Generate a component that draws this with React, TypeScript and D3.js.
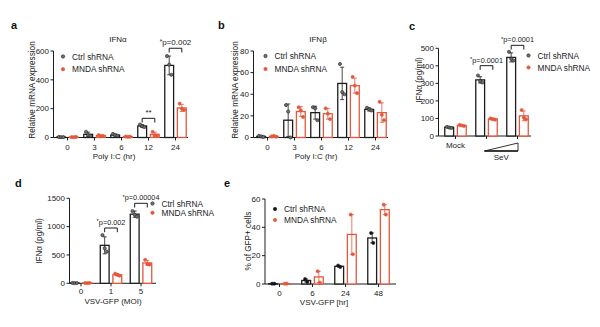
import React from 'react';
import * as d3 from 'd3';

const RED = '#e4573d';
const BLK = '#1c1c1c';
const FONT = 'Liberation Sans, Arial, Helvetica, sans-serif';
const legendLabels = ['Ctrl shRNA', 'MNDA shRNA'];

// ---------- panel a ----------
const aCats = ['0', '3', '6', '12', '24'];
const aCtrl = [3, 22, 17, 80, 500];
const aCtrlSd = [1.5, 15, 7, 9, 65];
const aCtrlPts = [[4, 2, 3], [40, 15, 12], [25, 15, 12], [90, 78, 72], [565, 505, 435]];
const aMnda = [3, 13, 6, 22, 205];
const aMndaSd = [1, 4, 2, 15, 25];
const aMndaPts = [[3, 2, 4], [17, 10, 12], [7, 5, 6], [40, 15, 12], [235, 200, 190]];
const aYTicks = [0, 200, 400, 600];
const aSig = [
  { cat: '12', text: '**', level: 133 },
  { cat: '24', text: '*p=0.002', level: 619 },
];

// ---------- panel b ----------
const bCats = ['0', '3', '6', '12', '24'];
const bCtrl = [1, 16, 23, 50, 26];
const bCtrlSd = [0.5, 15, 6, 15, 1.5];
const bCtrlPts = [[1.5, 1, 0.5], [30, 24, 0], [28, 27, 16], [68, 42, 40], [27.5, 26, 25]];
const bMnda = [1, 24, 22, 48, 23];
const bMndaSd = [0.5, 4.5, 5, 7, 9];
const bMndaPts = [[1, 1.5, 0.8], [28, 25, 19], [27, 22, 17], [56, 48, 41], [33, 21, 16]];
const bYTicks = [0, 20, 40, 60, 80];

// ---------- panel c ----------
const cCats = ['Mock', 'SeV low', 'SeV high'];
const cCatLabels = ['Mock', '', ''];
const cCtrl = [50, 320, 448];
const cCtrlSd = [3, 18, 26];
const cCtrlPts = [[52, 48, 46], [345, 312, 305], [480, 440, 430]];
const cMnda = [60, 97, 115];
const cMndaSd = [3, 4, 28];
const cMndaPts = [[63, 60, 57], [100, 96, 93], [148, 105, 95]];
const cYTicks = [0, 100, 200, 300, 400, 500];
const cSig = [
  { cat: 'SeV low', text: '*p=0.0001', level: 401 },
  { cat: 'SeV high', text: '*p=0.0001', level: 517 },
];

// ---------- panel d ----------
const dCats = ['0', '1', '5'];
const dCtrl = [5, 670, 1220];
const dCtrlSd = [3, 150, 55];
const dCtrlPts = [[6, 4, 5], [850, 620, 560], [1275, 1210, 1175]];
const dMnda = [5, 150, 360];
const dMndaSd = [2, 18, 45];
const dMndaPts = [[5, 4, 6], [170, 150, 135], [415, 340, 330]];
const dYTicks = [0, 500, 1000, 1500];
const dSig = [
  { cat: '1', text: '*p=0.002', level: 976 },
  { cat: '5', text: '*p=0.00004', level: 1412 },
];

// ---------- panel e ----------
const eCats = ['0', '6', '24', '48'];
const eCtrl = [0.2, 2.5, 12.5, 32.5];
const eCtrlSd = [0.2, 1, 0.5, 3.5];
const eCtrlPts = [[0.2, 0.2], [3.5, 1.5], [13, 12], [36, 29]];
const eMnda = [0.2, 5, 35, 52.5];
const eMndaSd = [0.2, 4, 14, 3.5];
const eMndaPts = [[0.2, 0.2], [9, 1], [49, 21], [56, 49]];
const eYTicks = [0, 20, 40, 60];

type Sig = { cat: string; text: string; level: number };
type Cfg = {
  letter: string; letterPos: [number, number];
  title?: string; titlePos?: [number, number];
  axisX: number; bottom: number; top: number; yMax: number;
  band: [number, number]; axisEnd: number;
  cats: string[]; catLabels: string[]; labelGap: number;
  ctrl: number[]; ctrlSd: number[]; ctrlPts: number[][];
  mnda: number[]; mndaSd: number[]; mndaPts: number[][];
  yTicks: number[];
  yTitle: string; yTitlePos: [number, number];
  xTitle: string; xTitlePos: [number, number];
  legend: [number, number, number];
  sig: Sig[]; sigFont: number;
  ctrlFill: string;
  wedge?: boolean;
};

function Panel({ c }: { c: Cfg }) {
  const y = d3.scaleLinear().domain([0, c.yMax]).range([c.bottom, c.top]);
  const x = d3.scaleBand<string>().domain(c.cats).range(c.band).paddingInner(0).paddingOuter(0);
  const sub = d3.scaleBand<string>().domain(['ctrl', 'mnda']).range([-12, 12]).paddingInner(0.3).paddingOuter(0.1);
  const bw = sub.bandwidth();
  const cx = (cat: string) => (x(cat) as number) + x.bandwidth() / 2;
  const series = [
    { key: 'ctrl', color: BLK, means: c.ctrl, sds: c.ctrlSd, pts: c.ctrlPts, fill: c.ctrlFill },
    { key: 'mnda', color: RED, means: c.mnda, sds: c.mndaSd, pts: c.mndaPts, fill: RED },
  ];
  const capW = 4;
  return (
    <g fontFamily={FONT}>
      <text x={c.letterPos[0]} y={c.letterPos[1]} fontSize={11} fontWeight="bold" fill="#111">{c.letter}</text>
      {c.title && c.titlePos && (
        <text x={c.titlePos[0]} y={c.titlePos[1]} fontSize={8} textAnchor="middle" fill="#222">{c.title}</text>
      )}
      {/* y axis */}
      <line x1={c.axisX} x2={c.axisX} y1={c.bottom} y2={y(c.yMax)} stroke={BLK} strokeWidth={1} />
      {c.yTicks.map((t) => (
        <g key={t}>
          <line x1={c.axisX - 3} x2={c.axisX} y1={y(t)} y2={y(t)} stroke={BLK} strokeWidth={1} />
          <text x={c.axisX - 4.5} y={y(t)} dy="0.35em" fontSize={8} textAnchor="end" fill="#222">{t}</text>
        </g>
      ))}
      <text transform={`translate(${c.yTitlePos[0]},${c.yTitlePos[1]}) rotate(-90)`} fontSize={8.2} textAnchor="middle" fill="#222">{c.yTitle}</text>
      {/* x axis */}
      <line x1={c.axisX} x2={c.axisEnd} y1={c.bottom} y2={c.bottom} stroke={BLK} strokeWidth={1} />
      {c.cats.map((cat, i) => (
        <g key={cat}>
          <line x1={cx(cat)} x2={cx(cat)} y1={c.bottom} y2={c.bottom + 3} stroke={BLK} strokeWidth={1} />
          {c.catLabels[i] && (
            <text x={cx(cat)} y={c.bottom + c.labelGap} fontSize={8} textAnchor="middle" fill="#222">{c.catLabels[i]}</text>
          )}
        </g>
      ))}
      {c.xTitle && (
        <text x={c.xTitlePos[0]} y={c.xTitlePos[1]} fontSize={8} textAnchor="middle" fill="#222">{c.xTitle}</text>
      )}
      {c.wedge && (() => {
        const x1 = cx(c.cats[1]) - 2;
        const x2 = cx(c.cats[2]) + 0.5;
        const yb = c.bottom + 15;
        return (
          <g>
            <polygon points={`${x1},${yb} ${x2},${yb} ${x2},${yb - 8}`} fill="none" stroke={BLK} strokeWidth={0.9} />
            <line x1={x1} x2={x2} y1={yb} y2={yb} stroke={BLK} strokeWidth={1.4} />
            <text x={(x1 + x2) / 2} y={yb + 8.5} fontSize={8} textAnchor="middle" fill="#222">SeV</text>
          </g>
        );
      })()}
      {/* bars */}
      {series.map((s) => (
        <g key={s.key}>
          {c.cats.map((cat, i) => {
            const bx = cx(cat) + (sub(s.key) as number);
            const m = s.means[i];
            const mid = bx + bw / 2;
            const hi = y(m + s.sds[i]);
            const lo = y(Math.max(0, m - s.sds[i]));
            const n = s.pts[i].length;
            return (
              <g key={cat}>
                <rect x={bx} y={y(m)} width={bw} height={c.bottom - y(m)} fill="white" stroke={s.color} strokeWidth={1.3} />
                <line x1={mid} x2={mid} y1={lo} y2={hi} stroke={s.color} strokeWidth={0.8} />
                <line x1={mid - capW / 2} x2={mid + capW / 2} y1={hi} y2={hi} stroke={s.color} strokeWidth={0.8} />
                <line x1={mid - capW / 2} x2={mid + capW / 2} y1={lo} y2={lo} stroke={s.color} strokeWidth={0.8} />
                {s.pts[i].map((p, j) => (
                  <circle key={j} cx={mid + (j - (n - 1) / 2) * 2.2} cy={y(p)} r={1.6}
                    fill={s.fill} stroke={s.key === 'ctrl' ? '#222' : RED} strokeWidth={0.6} />
                ))}
              </g>
            );
          })}
        </g>
      ))}
      {/* significance */}
      {c.sig.map((sg) => {
        const xa = cx(sg.cat) + (sub('ctrl') as number) + bw / 2;
        const xb = cx(sg.cat) + (sub('mnda') as number) + bw / 2;
        const yl = y(sg.level);
        const star = sg.text.startsWith('*') && sg.text.length > 2;
        return (
          <g key={sg.cat}>
            <path d={`M${xa},${yl + 4.2}V${yl}H${xb}V${yl + 4.2}`} fill="none" stroke={BLK} strokeWidth={1} />
            <text x={(xa + xb) / 2} y={yl - (star ? 3 : 3.4)} fontSize={c.sigFont} textAnchor="middle" fill="#222">
              {star ? (
                <>
                  <tspan fontSize={c.sigFont * 0.8} dy={-1.5}>*</tspan>
                  <tspan dy={1.5}>{sg.text.slice(1)}</tspan>
                </>
              ) : sg.text}
            </text>
          </g>
        );
      })}
      {/* legend */}
      {legendLabels.map((lab, i) => {
        const ly = c.legend[1] + i * c.legend[2];
        return (
          <g key={lab}>
            <circle cx={c.legend[0]} cy={ly} r={1.7} fill={i === 0 ? c.ctrlFill : RED} stroke={i === 0 ? '#222' : RED} strokeWidth={0.6} />
            <text x={c.legend[0] + 9} y={ly + 3} fontSize={8.3} fill="#222">{lab}</text>
          </g>
        );
      })}
    </g>
  );
}

const panels: Cfg[] = [
  {
    letter: 'a', letterPos: [11, 29], title: 'IFNα', titlePos: [118, 42],
    axisX: 53.5, bottom: 137.5, top: 51, yMax: 600, band: [54, 189], axisEnd: 188,
    cats: aCats, catLabels: aCats, labelGap: 12.2,
    ctrl: aCtrl, ctrlSd: aCtrlSd, ctrlPts: aCtrlPts, mnda: aMnda, mndaSd: aMndaSd, mndaPts: aMndaPts,
    yTicks: aYTicks, yTitle: 'Relative mRNA expression', yTitlePos: [35, 90],
    xTitle: 'Poly I:C (hr)', xTitlePos: [114, 158.5], legend: [63, 56.5, 12.7],
    sig: aSig, sigFont: 8, ctrlFill: '#707070',
  },
  {
    letter: 'b', letterPos: [218, 29], title: 'IFNβ', titlePos: [318, 42],
    axisX: 253.5, bottom: 137.5, top: 51, yMax: 80, band: [254, 389], axisEnd: 388,
    cats: bCats, catLabels: bCats, labelGap: 12.2,
    ctrl: bCtrl, ctrlSd: bCtrlSd, ctrlPts: bCtrlPts, mnda: bMnda, mndaSd: bMndaSd, mndaPts: bMndaPts,
    yTicks: bYTicks, yTitle: 'Relative mRNA expression', yTitlePos: [238, 90],
    xTitle: 'Poly I:C (hr)', xTitlePos: [316, 158.5], legend: [265.5, 56, 13],
    sig: [], sigFont: 8, ctrlFill: '#707070',
  },
  {
    letter: 'c', letterPos: [409, 30],
    axisX: 438.5, bottom: 136, top: 48.3, yMax: 500, band: [440, 533], axisEnd: 531,
    cats: cCats, catLabels: cCatLabels, labelGap: 12.2,
    ctrl: cCtrl, ctrlSd: cCtrlSd, ctrlPts: cCtrlPts, mnda: cMnda, mndaSd: cMndaSd, mndaPts: cMndaPts,
    yTicks: cYTicks, yTitle: 'IFNα (pg/ml)', yTitlePos: [422, 80],
    xTitle: '', xTitlePos: [0, 0], legend: [528.5, 55.5, 12],
    sig: cSig, sigFont: 7.3, ctrlFill: '#707070', wedge: true,
  },
  {
    letter: 'd', letterPos: [15, 187],
    axisX: 69.5, bottom: 283.3, top: 198.3, yMax: 1500, band: [66, 156], axisEnd: 156,
    cats: dCats, catLabels: dCats, labelGap: 10.8,
    ctrl: dCtrl, ctrlSd: dCtrlSd, ctrlPts: dCtrlPts, mnda: dMnda, mndaSd: dMndaSd, mndaPts: dMndaPts,
    yTicks: dYTicks, yTitle: 'IFNα (pg/ml)', yTitlePos: [42, 241],
    xTitle: 'VSV-GFP (MOI)', xTitlePos: [113, 303.5], legend: [152.5, 203.5, 9.3],
    sig: dSig, sigFont: 7.3, ctrlFill: '#707070',
  },
  {
    letter: 'e', letterPos: [224, 187],
    axisX: 265, bottom: 284, top: 199, yMax: 60, band: [263, 395], axisEnd: 396,
    cats: eCats, catLabels: eCats, labelGap: 11.5,
    ctrl: eCtrl, ctrlSd: eCtrlSd, ctrlPts: eCtrlPts, mnda: eMnda, mndaSd: eMndaSd, mndaPts: eMndaPts,
    yTicks: eYTicks, yTitle: '% of GFP+ cells', yTitlePos: [251, 241],
    xTitle: 'VSV-GFP [hr]', xTitlePos: [324, 305], legend: [275, 209, 11],
    sig: [], sigFont: 8, ctrlFill: '#111',
  },
];

export default function App() {
  return (
    <svg width={600} height={327} viewBox="0 0 600 327"
      style={{ position: 'absolute', left: 0, top: 0, background: 'white' }}>
      <rect x={0} y={0} width={600} height={327} fill="white" />
      {panels.map((p) => <Panel key={p.letter} c={p} />)}
    </svg>
  );
}
